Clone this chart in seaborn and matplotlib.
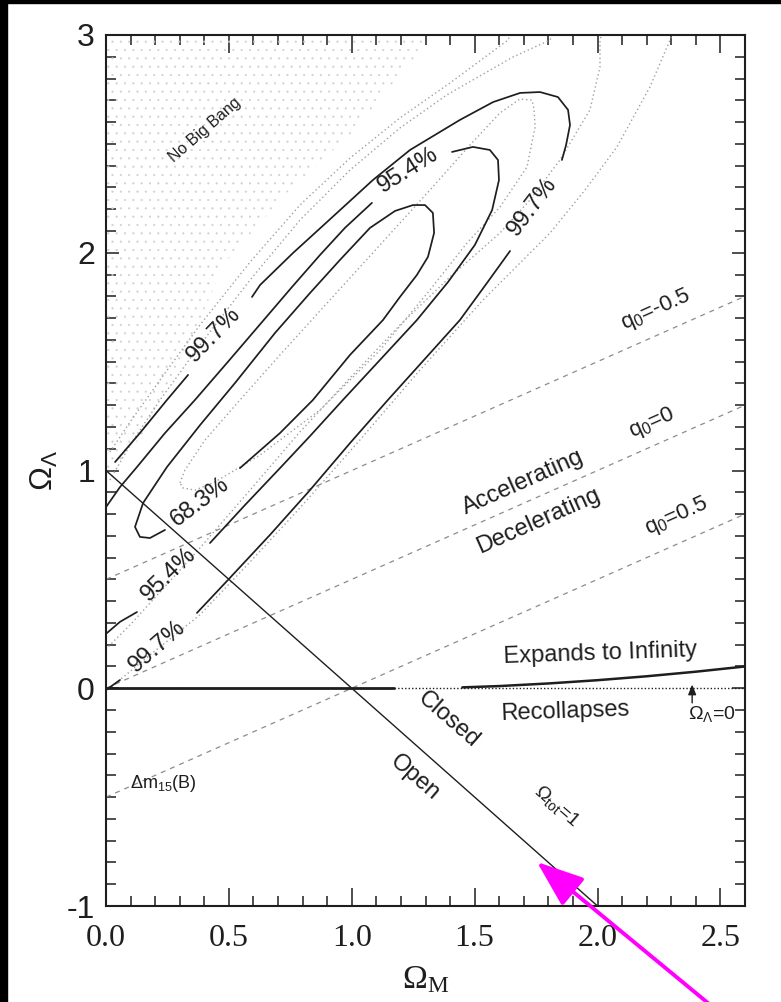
import numpy as np
import pandas as pd
import matplotlib
matplotlib.use("Agg")
import matplotlib.pyplot as plt
import seaborn as sns
from matplotlib.patches import Rectangle
from matplotlib.ticker import MultipleLocator, FormatStrFormatter

# ---------------- data (Omega_M, Omega_Lambda) ----------------
# solid contours (labelled)
c68_x = [0.240, 0.179, 0.138, 0.118, 0.151, 0.248, 0.383, 0.525, 0.688, 0.830, 0.952, 1.074, 1.176,
         1.249, 1.298, 1.330, 1.335, 1.310, 1.265, 1.196, 1.127, 0.993, 0.842, 0.708, 0.545]
c68_y = [0.727, 0.690, 0.695, 0.741, 0.851, 1.016, 1.209, 1.402, 1.632, 1.815, 1.967, 2.114, 2.192,
         2.219, 2.219, 2.183, 2.091, 1.981, 1.898, 1.797, 1.691, 1.531, 1.324, 1.172, 1.011]

c95a_x = [0.0, 0.057, 0.126, 0.240, 0.362, 0.496, 0.635, 0.757, 0.871, 0.972, 1.082]
c95a_y = [0.832, 0.924, 1.016, 1.172, 1.324, 1.499, 1.682, 1.843, 1.990, 2.114, 2.229]
c95b_x = [1.408, 1.493, 1.562, 1.595, 1.599, 1.571, 1.501, 1.392, 1.265, 1.115, 0.964, 0.830, 0.708, 0.566, 0.423]
c95b_y = [2.463, 2.486, 2.472, 2.426, 2.334, 2.196, 2.036, 1.866, 1.691, 1.508, 1.324, 1.158, 1.011, 0.842, 0.667]
c95c_x = [0.126, 0.057, 0.0]
c95c_y = [0.350, 0.305, 0.250]

c99a_x = [0.037, 0.138, 0.248, 0.334]
c99a_y = [1.039, 1.172, 1.324, 1.439]
c99b_x = [0.594, 0.627, 0.761, 0.899, 1.086, 1.237, 1.440, 1.575, 1.685, 1.766, 1.839, 1.880, 1.888, 1.872, 1.855]
c99b_y = [1.797, 1.852, 1.999, 2.141, 2.334, 2.472, 2.610, 2.692, 2.734, 2.738, 2.715, 2.656, 2.587, 2.495, 2.426]
c99c_x = [1.644, 1.550, 1.440, 1.294, 1.147, 0.993, 0.830, 0.667, 0.496, 0.370]
c99c_y = [2.008, 1.861, 1.691, 1.508, 1.324, 1.126, 0.910, 0.704, 0.497, 0.346]
c99d_x = [0.057, 0.0]
c99d_y = [0.038, -0.008]

# dotted contours (second fit)
d68_x = [0.301, 0.321, 0.403, 0.545, 0.708, 0.911, 1.115, 1.318, 1.481, 1.603, 1.684, 1.733, 1.741, 1.746,
         1.713, 1.603, 1.469, 1.318, 1.115, 0.871, 0.627, 0.443, 0.362, 0.313, 0.301]
d68_y = [0.943, 1.002, 1.140, 1.324, 1.531, 1.783, 2.036, 2.288, 2.495, 2.642, 2.706, 2.701, 2.665, 2.578,
         2.394, 2.210, 2.045, 1.829, 1.553, 1.278, 1.071, 0.947, 0.910, 0.920, 0.943]
d95_x = [0.016, 0.098, 0.220, 0.382, 0.586, 0.789, 0.993, 1.196, 1.387, 1.656, 1.807, 1.83,
         2.03, 2.010, 2.010, 1.969, 1.847, 1.725, 1.603, 1.400, 1.196, 0.993, 0.789, 0.586, 0.382, 0.220, 0.098, 0.004]
d95_y = [0.956, 1.117, 1.324, 1.576, 1.875, 2.150, 2.380, 2.573, 2.725, 2.899, 2.977, 3.05,
         3.05, 2.977, 2.853, 2.656, 2.426, 2.242, 2.091, 1.889, 1.668, 1.425, 1.177, 0.910, 0.644, 0.442, 0.291, 0.185]
d99_x = [0.016, 0.098, 0.220, 0.382, 0.586, 0.789, 0.993, 1.196, 1.400, 1.636, 1.66,
         2.32, 2.295, 2.213, 2.079, 1.949, 1.807, 1.534, 1.278, 1.033, 0.789, 0.586, 0.382, 0.179, 0.016]
d99_y = [1.085, 1.223, 1.416, 1.668, 1.957, 2.219, 2.435, 2.619, 2.780, 2.977, 3.05,
         3.05, 2.977, 2.761, 2.486, 2.288, 2.091, 1.783, 1.462, 1.140, 0.828, 0.580, 0.337, 0.153, 0.001]

# "No Big Bang" region boundary
nbb_x = [0.0, 0.14, 0.31, 0.48, 0.74, 1.00, 1.33]
nbb_y = [0.97, 1.15, 1.50, 1.95, 2.28, 2.55, 3.0]

# deceleration-parameter lines q0 (end points at Omega_M = 0 and 2.6)
q0_vals = ["-0.5", "0", "0.5"]
q0_x = [0.0, 2.6]
q0_y = [[0.5, 1.8], [0.0, 1.3], [-0.5, 0.8]]

# flat universe line Omega_tot = 1
flat_x = [0.0, 2.0]
flat_y = [1.0, -1.0]

# expand / recollapse boundary
exp_flat_x = [0.0, 1.17]
exp_flat_y = [0.0, 0.0]
exp_x = [1.45, 1.6, 1.8, 2.0, 2.2, 2.4, 2.6]
exp_y = [0.004, 0.010, 0.022, 0.037, 0.055, 0.076, 0.100]

x_ticks_major = 0.5
y_ticks_major = 1.0

# ---------------- style ----------------
sns.set_theme(style="ticks")
plt.rcParams["font.family"] = ["Liberation Sans", "DejaVu Sans"]
plt.rcParams["mathtext.default"] = "regular"
plt.rcParams["axes.unicode_minus"] = False
plt.rcParams["hatch.color"] = "#cfcfcf"
plt.rcParams["hatch.linewidth"] = 0.3

INK = "#1e1e1e"
fig = plt.figure(figsize=(7.81, 10.02), dpi=100)
fig.patch.set_facecolor("white")
ax = fig.add_axes([106 / 781, 1 - 906 / 1002, 639 / 781, 871 / 1002])
ax.set_facecolor("white")
ax.set_xlim(0, 2.6)
ax.set_ylim(-1, 3)

# No Big Bang shading
ax.fill_between(nbb_x, nbb_y, 3.0, facecolor="none", edgecolor="#cfcfcf", hatch="..", linewidth=0)


def line(xs, ys, **kw):
    sns.lineplot(x=xs, y=ys, sort=False, estimator=None, ax=ax, **kw)


# dashed q0 lines
for qy in q0_y:
    line(q0_x, qy, color="#8c8c8c", linewidth=0.9, linestyle=(0, (4, 4)))

# dotted contours
for xs, ys in [(d68_x, d68_y), (d95_x, d95_y), (d99_x, d99_y)]:
    line(xs, ys, color="#a0a0a0", linewidth=1.0, linestyle=(0, (1, 2)))

# solid contours
for xs, ys in [(c68_x, c68_y), (c95a_x, c95a_y), (c95b_x, c95b_y), (c95c_x, c95c_y),
               (c99a_x, c99a_y), (c99b_x, c99b_y), (c99c_x, c99c_y), (c99d_x, c99d_y)]:
    line(xs, ys, color=INK, linewidth=1.25)

# flat universe line
line(flat_x, flat_y, color=INK, linewidth=1.0)

# Lambda = 0 and expansion boundary
line([0.0, 2.6], [0.0, 0.0], color=INK, linewidth=1.0, linestyle=(0, (1, 1.5)))
line(exp_flat_x, exp_flat_y, color=INK, linewidth=2.0)
line(exp_x, exp_y, color=INK, linewidth=1.8)

# ---------------- text ----------------
T = dict(color=INK, ha="center", va="center", rotation_mode="anchor")
ax.text(0.403, 2.564, "No Big Bang", fontsize=11.5, rotation=41, **T)
ax.text(1.229, 2.380, "95.4%", fontsize=17, rotation=32, **T)
ax.text(1.733, 2.214, "99.7%", fontsize=17, rotation=53, **T)
ax.text(0.439, 1.622, "99.7%", fontsize=17, rotation=46, **T)
ax.text(0.382, 0.855, "68.3%", fontsize=17, rotation=37, **T)
ax.text(0.256, 0.525, "95.4%", fontsize=17, rotation=44, **T)
ax.text(0.208, 0.190, "99.7%", fontsize=17, rotation=41, **T)

q0_pos = [(2.238, 1.737), (2.222, 1.218), (2.323, 0.787)]
for val, (qx, qy) in zip(q0_vals, q0_pos):
    ax.text(qx, qy, "q$_0$=" + val, fontsize=16, rotation=24, **T)

ax.text(1.697, 0.947, "Accelerating", fontsize=17, rotation=24, **T)
ax.text(1.758, 0.768, "Decelerating", fontsize=17, rotation=24, **T)
ax.text(2.010, 0.157, "Expands to Infinity", fontsize=17, rotation=2, **T)
ax.text(1.868, -0.110, "Recollapses", fontsize=17, rotation=2, **T)
ax.text(2.466, -0.118, "Ω$_Λ$=0", fontsize=14, **T)
ax.annotate("", xy=(2.385, 0.03), xytext=(2.385, -0.08),
            arrowprops=dict(arrowstyle="-|>,head_length=0.5,head_width=0.2", color=INK, lw=1.0))
ax.text(1.392, -0.146, "Closed", fontsize=17, rotation=-41, **T)
ax.text(1.257, -0.412, "Open", fontsize=17, rotation=-41, **T)
ax.text(1.835, -0.540, "Ω$_{tot}$=1", fontsize=14, rotation=-41, **T)
ax.text(0.232, -0.437, "Δm$_{15}$(B)", fontsize=13, **T)

# ---------------- axes ----------------
ax.xaxis.set_major_locator(MultipleLocator(x_ticks_major))
ax.xaxis.set_minor_locator(MultipleLocator(0.1))
ax.yaxis.set_major_locator(MultipleLocator(y_ticks_major))
ax.yaxis.set_minor_locator(MultipleLocator(0.1))
ax.xaxis.set_major_formatter(FormatStrFormatter("%.1f"))
ax.yaxis.set_major_formatter(FormatStrFormatter("%d"))
ax.tick_params(which="both", direction="in", top=True, right=True, color=INK, labelcolor=INK)
ax.tick_params(axis="x", which="major", length=13, width=1.1, pad=13, labelsize=23,
               labelfontfamily="Liberation Serif")
ax.tick_params(axis="y", which="major", length=9.5, width=1.1, pad=8, labelsize=23)
ax.tick_params(which="minor", length=7, width=1.1)
for s in ax.spines.values():
    s.set_linewidth(1.5)
    s.set_color(INK)
    s.set_visible(True)

ax.set_xlabel("Ω$_M$", fontsize=24, family="Liberation Serif", color=INK, labelpad=8)
ax.set_ylabel("Ω$_Λ$", fontsize=23, color=INK, labelpad=5)

# image frame strips and the pointer arrow
fig.patches.append(Rectangle((0, 0), 7 / 781, 1, transform=fig.transFigure, color="black", zorder=10))
fig.patches.append(Rectangle((0, 1 - 3 / 1002), 1, 3 / 1002, transform=fig.transFigure, color="black", zorder=10))
ax.annotate("", xy=(537, 1002 - 862), xycoords="figure pixels",
            xytext=(714, -6), textcoords="figure pixels", annotation_clip=False,
            arrowprops=dict(arrowstyle="-|>,head_length=1.45,head_width=0.55", mutation_scale=20,
                            color="#ff00ff", lw=2.8, shrinkA=0, shrinkB=0))

fig.savefig("out.png", dpi=100, facecolor="white")
